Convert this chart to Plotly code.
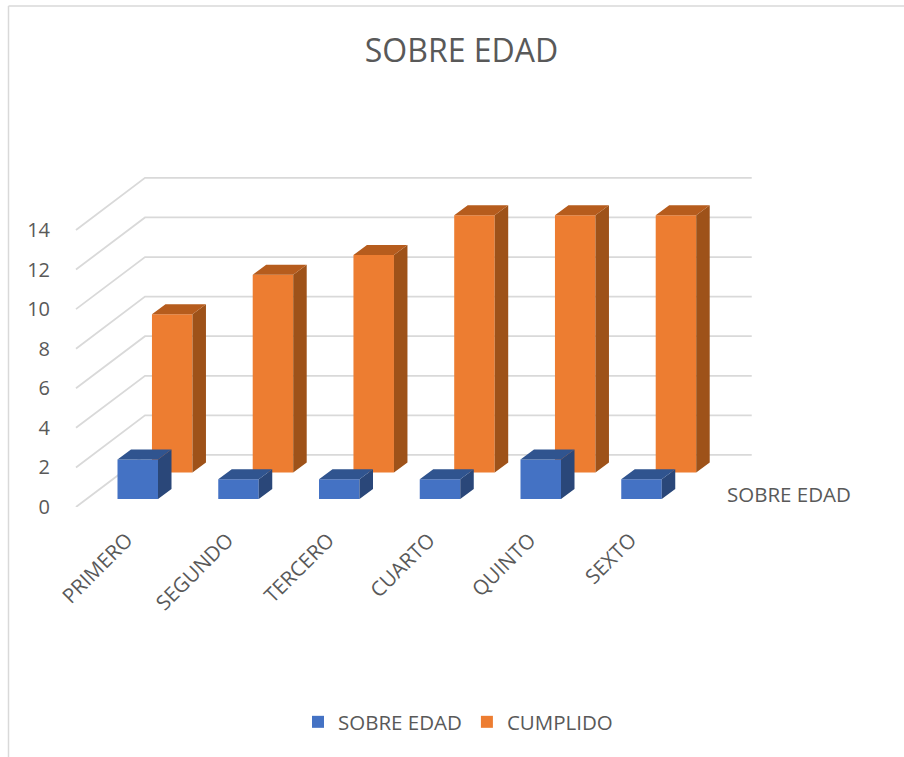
import plotly.graph_objects as go

# ---- data ----
categories = ["PRIMERO", "SEGUNDO", "TERCERO", "CUARTO", "QUINTO", "SEXTO"]
sobre_edad = [2, 1, 1, 1, 2, 1]
cumplido = [8, 10, 11, 13, 13, 13]
y_ticks = [0, 2, 4, 6, 8, 10, 12, 14]
title_text = "SOBRE EDAD"
depth_label = "SOBRE EDAD"

# ---- oblique projection settings (in axis units) ----
BAR_W = 0.402
DX, DY = 0.134, 0.505          # depth of one bar
ROW2_DX = 0.342                # x shift of the rear series
BASE1, BASE2 = 0.40, 1.74      # floor height of each row
WALL_DX, WALL_DY = 0.685, 2.63 # floor depth
WALL_L, WALL_R = -0.613, 6.094

W, H = 904, 757
ML, MR, MT, MB = 58, 144, 170, 250
PX_X, PX_Y = 100.75, 19.79
X0_PX = 137.75


def px(x):
    return (x - ML) / (W - ML - MR)


def py(y):
    return (H - MB - y) / (H - MB - MT)


def faces(values, shift, base):
    sx, sy, tx, ty = [], [], [], []
    for i, v in enumerate(values):
        l = i + shift - BAR_W / 2
        r = i + shift + BAR_W / 2
        b, t = base, base + v
        sx += [r, r + DX, r + DX, r, r, None]
        sy += [b, b + DY, t + DY, t, b, None]
        tx += [l, r, r + DX, l + DX, l, None]
        ty += [t, t, t + DY, t + DY, t, None]
    return sx, sy, tx, ty


fig = go.Figure()

# walls / gridlines
gx, gy = [], []
for v in y_ticks:
    gx += [WALL_L, WALL_L + WALL_DX, WALL_R, None]
    gy += [v, v + WALL_DY, v + WALL_DY, None]
fig.add_trace(go.Scatter(x=gx, y=gy, mode="lines", showlegend=False, hoverinfo="skip",
                         line=dict(color="#D9D9D9", width=1.8), zorder=0))

series = [
    ("CUMPLIDO", cumplido, ROW2_DX, BASE2, "#ED7D31", "#9E5219", "#B65C1D", 1),
    ("SOBRE EDAD", sobre_edad, 0.0, BASE1, "#4472C4", "#2A4779", "#30548F", 2),
]
for name, vals, shift, base, front, side, top, z in series:
    sx, sy, tx, ty = faces(vals, shift, base)
    fig.add_trace(go.Scatter(x=sx, y=sy, mode="lines", fill="toself", fillcolor=side,
                             line=dict(width=0), showlegend=False, hoverinfo="skip", zorder=z))
    fig.add_trace(go.Scatter(x=tx, y=ty, mode="lines", fill="toself", fillcolor=top,
                             line=dict(width=0), showlegend=False, hoverinfo="skip", zorder=z))
    fig.add_trace(go.Bar(x=[i + shift for i in range(len(vals))], y=vals, base=base, width=BAR_W,
                         name=name, marker=dict(color=front, line=dict(width=0)), zorder=z,
                         legendrank=2 if z == 1 else 1))

TXT = "#595959"
FONT = "Open Sans"
fig.update_layout(
    width=W, height=H,
    margin=dict(l=ML, r=MR, t=MT, b=MB, pad=0),
    paper_bgcolor="white", plot_bgcolor="rgba(0,0,0,0)",
    barmode="overlay", font=dict(family=FONT, color=TXT),
    title=dict(text=title_text, x=461.5 / W, xanchor="center", y=1 - 51 / H, yanchor="middle",
               font=dict(size=32, family=FONT, color=TXT)),
    xaxis=dict(range=[(ML - X0_PX) / PX_X, (W - MR - X0_PX) / PX_X],
               tickmode="array", tickvals=[i - 0.11 for i in range(len(categories))], ticktext=categories,
               tickangle=-45, showgrid=False, zeroline=False, showline=False,
               ticks="outside", ticklen=12, tickcolor="rgba(0,0,0,0)",
               tickfont=dict(size=20.5, family=FONT, color=TXT)),
    yaxis=dict(range=[0, (H - MB - MT) / PX_Y], tickmode="array", tickvals=y_ticks,
               showgrid=False, zeroline=False, showline=False,
               ticks="outside", ticklen=3, tickcolor="rgba(0,0,0,0)",
               tickfont=dict(size=20, family=FONT, color=TXT)),
    legend=dict(orientation="h", x=px(298), y=py(722), xanchor="left", yanchor="middle",
                font=dict(size=20.5, family=FONT, color=TXT), traceorder="normal",
                itemwidth=30),
    annotations=[dict(text=depth_label, xref="paper", yref="paper",
                      x=px(725), y=py(494),
                      xanchor="left", yanchor="middle", showarrow=False,
                      font=dict(size=20.5, family=FONT, color=TXT))],
    shapes=[
        dict(type="line", xref="paper", yref="paper", x0=px(8.5), x1=px(8.5),
             y0=py(6), y1=py(757), line=dict(color="#D9D9D9", width=1.5)),
        dict(type="line", xref="paper", yref="paper", x0=px(8.5), x1=px(904),
             y0=py(6), y1=py(6), line=dict(color="#D9D9D9", width=1.5)),
    ],
)
fig.write_html("out.html", config={"displayModeBar": False},
               post_script="document.body.style.margin='0';document.body.style.overflow='hidden';")
